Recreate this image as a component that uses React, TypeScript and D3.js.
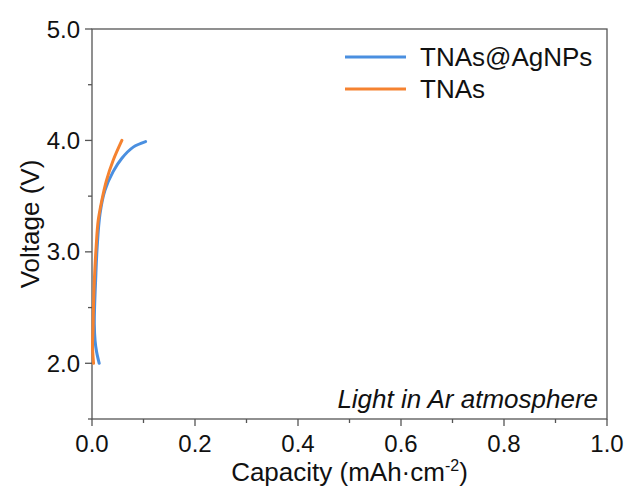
import React from "react";
import * as d3 from "d3";

// Charge curves: capacity (mAh·cm⁻²) vs voltage (V)
const agCapacity = [0.014, 0.009, 0.006, 0.0045, 0.005, 0.007, 0.010, 0.0155, 0.025, 0.041, 0.058, 0.080, 0.104];
const agVoltage = [2.0, 2.1, 2.2, 2.35, 2.5, 2.74, 3.04, 3.34, 3.55, 3.72, 3.84, 3.94, 3.99];
const tnaCapacity = [0.003, 0.001, 0.002, 0.0025, 0.0045, 0.008, 0.012, 0.019, 0.028, 0.041, 0.058];
const tnaVoltage = [2.0, 2.15, 2.3, 2.44, 2.74, 3.04, 3.28, 3.46, 3.64, 3.82, 4.0];

const xTicks = [0, 0.2, 0.4, 0.6, 0.8, 1.0];
const xMinor = [0.1, 0.3, 0.5, 0.7, 0.9];
const yTicks = [2.0, 3.0, 4.0, 5.0];
const yMinor = [1.5, 2.5, 3.5, 4.5];
const seriesNames = ["TNAs@AgNPs", "TNAs"];
const seriesColors = ["#4a8fe0", "#f58230"];

const W = 630, H = 488;
const L = 92, R = 607, T = 29, B = 419;
const FONT = "'Liberation Sans', Arial, sans-serif";
const AXIS = "#555";

export default function App() {
  const x = d3.scaleLinear().domain([0, 1]).range([L, R]);
  const y = d3.scaleLinear().domain([1.5, 5]).range([B, T]);
  const line = d3.line<[number, number]>().x(d => x(d[0])).y(d => y(d[1])).curve(d3.curveCatmullRom.alpha(0.5));
  const series = [
    agCapacity.map((c, i) => [c, agVoltage[i]] as [number, number]),
    tnaCapacity.map((c, i) => [c, tnaVoltage[i]] as [number, number]),
  ];
  return (
    <svg width={W} height={H} style={{ position: "absolute", left: 0, top: 0, background: "#fff" }} fontFamily={FONT}>
      <rect x={0} y={0} width={W} height={H} fill="#fff" />
      <rect x={L} y={T} width={R - L} height={B - T} fill="none" stroke={AXIS} strokeWidth={1.3} />
      {yTicks.map(t => (
        <g key={"y" + t}>
          <line x1={L - 7} x2={L} y1={y(t)} y2={y(t)} stroke={AXIS} strokeWidth={1.3} />
          <text x={L - 12} y={y(t)} dy="0.36em" textAnchor="end" fontSize={24} fill="#111">{t.toFixed(1)}</text>
        </g>
      ))}
      {yMinor.map(t => (
        <line key={"ym" + t} x1={L - 4} x2={L} y1={y(t)} y2={y(t)} stroke={AXIS} strokeWidth={1.3} />
      ))}
      {xTicks.map(t => (
        <g key={"x" + t}>
          <line x1={x(t)} x2={x(t)} y1={B} y2={B + 7} stroke={AXIS} strokeWidth={1.3} />
          <text x={x(t)} y={B + 33} textAnchor="middle" fontSize={24} fill="#111">{t.toFixed(1)}</text>
        </g>
      ))}
      {xMinor.map(t => (
        <line key={"xm" + t} x1={x(t)} x2={x(t)} y1={B} y2={B + 4} stroke={AXIS} strokeWidth={1.3} />
      ))}
      <text x={(L + R) / 2} y={481} textAnchor="middle" fontSize={26} fill="#111">
        Capacity (mAh·cm<tspan dy={-10} fontSize={16}>-2</tspan><tspan dy={10}>)</tspan>
      </text>
      <text transform={`translate(39,${(T + B) / 2}) rotate(-90)`} textAnchor="middle" fontSize={26} fill="#111">Voltage (V)</text>
      {series.map((s, i) => (
        <path key={i} d={line(s) ?? ""} fill="none" stroke={seriesColors[i]} strokeWidth={3} strokeLinecap="round" />
      ))}
      {seriesNames.map((n, i) => (
        <g key={n}>
          <line x1={345} x2={406} y1={57 + i * 32} y2={57 + i * 32} stroke={seriesColors[i]} strokeWidth={3} />
          <text x={420} y={57 + i * 32} dy="0.36em" fontSize={26} fill="#111">{n}</text>
        </g>
      ))}
      <text x={598} y={408} textAnchor="end" fontSize={26} fontStyle="italic" fill="#111">Light in Ar atmosphere</text>
    </svg>
  );
}
